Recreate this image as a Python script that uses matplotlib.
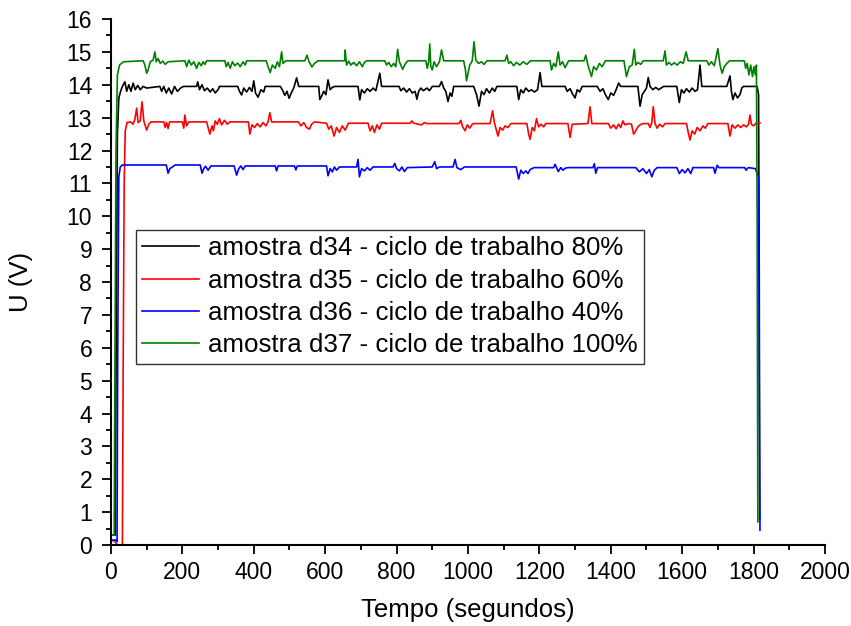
import matplotlib
matplotlib.use("Agg")
import matplotlib.pyplot as plt
from matplotlib.ticker import MultipleLocator

plt.rcParams['font.family'] = ['Liberation Sans', 'DejaVu Sans']

# (tempo em s, tensao em V)
d34 = [(0, 0.3), (12, 0.3), (14, 5), (18, 12.5), (22, 13.6), (27, 13.8), (32, 13.95), (39, 14.09),
       (44, 13.8), (50, 14.0), (56, 13.8), (62, 14.05), (68, 13.85), (75, 13.98), (82, 13.85),
       (90, 13.95), (100, 13.9), (137, 13.95), (142, 13.8), (148, 13.95), (155, 13.75), (162, 13.9),
       (170, 13.72), (178, 13.95), (186, 13.8), (195, 13.9), (203, 13.95), (240, 13.95), (243, 14.09),
       (248, 13.85), (255, 14.0), (262, 13.82), (270, 13.9), (278, 13.78), (285, 13.88), (292, 13.75),
       (300, 13.85), (304, 13.95), (355, 13.95), (360, 13.8), (366, 13.69), (372, 13.9), (380, 13.78),
       (388, 13.92), (395, 13.8), (400, 14.12), (405, 13.75), (412, 13.62), (420, 13.85), (428, 13.78),
       (432, 13.95), (474, 13.95), (480, 13.85), (487, 13.68), (493, 13.8), (499, 13.59), (505, 13.75),
       (512, 13.9), (520, 14.21), (526, 13.95), (582, 13.95), (585, 13.55), (590, 13.65), (596, 13.8),
       (602, 13.7), (608, 14.15), (614, 13.85), (620, 13.92), (627, 13.95), (692, 13.95), (697, 13.54),
       (702, 13.85), (710, 13.75), (718, 13.88), (726, 13.8), (734, 13.9), (742, 13.82), (753, 14.35),
       (758, 13.95), (807, 13.95), (812, 13.82), (820, 13.9), (828, 13.78), (836, 13.88), (844, 13.75),
       (852, 13.8), (857, 13.56), (862, 13.8), (868, 13.9), (875, 13.82), (885, 13.9), (892, 13.82),
       (900, 13.95), (920, 13.95), (926, 14.1), (932, 13.9), (938, 13.8), (944, 13.49), (950, 13.75),
       (955, 13.65), (960, 13.95), (1016, 13.95), (1024, 13.7), (1031, 13.35), (1038, 13.8),
       (1045, 13.7), (1052, 13.88), (1060, 13.75), (1068, 13.9), (1075, 13.8), (1081, 13.95),
       (1137, 13.95), (1142, 13.55), (1148, 13.85), (1155, 13.75), (1162, 13.9), (1170, 13.8),
       (1178, 13.85), (1186, 13.78), (1195, 13.85), (1202, 14.37), (1207, 13.95), (1272, 13.95),
       (1278, 13.8), (1286, 13.88), (1293, 13.72), (1300, 13.6), (1306, 13.85), (1313, 13.78),
       (1320, 13.95), (1362, 13.95), (1370, 13.8), (1378, 13.88), (1385, 13.7), (1393, 13.55),
       (1400, 13.75), (1408, 13.68), (1415, 13.85), (1422, 14.05), (1428, 13.95), (1476, 13.95),
       (1482, 13.35), (1488, 13.7), (1494, 13.8), (1500, 13.9), (1505, 14.22), (1510, 13.95),
       (1518, 13.85), (1526, 13.92), (1534, 13.85), (1548, 13.95), (1585, 13.95), (1592, 13.46),
       (1598, 13.85), (1605, 13.75), (1612, 13.88), (1620, 13.78), (1628, 13.9), (1636, 13.8),
       (1643, 13.85), (1650, 14.6), (1655, 13.95), (1725, 13.95), (1734, 14.27), (1738, 13.8),
       (1742, 13.55), (1748, 13.75), (1755, 13.6), (1762, 13.7), (1767, 13.9), (1772, 13.95),
       (1810, 13.95), (1814, 13.7), (1816, 8), (1817, 0.78)]

d35 = [(0, 0.15), (10, 0.12), (18, 0.0), (32, 0.0), (34, 5), (37, 11), (40, 12.6), (45, 12.85),
       (55, 12.87), (62, 12.8), (67, 12.95), (72, 13.29), (76, 12.85), (82, 12.9), (87, 13.48),
       (92, 12.9), (100, 12.62), (106, 12.8), (112, 12.87), (148, 12.87), (152, 12.7), (156, 12.85),
       (160, 12.67), (164, 12.87), (200, 12.87), (204, 12.68), (207, 13.08), (212, 12.75),
       (218, 12.87), (268, 12.87), (272, 12.7), (277, 12.5), (283, 12.75), (287, 12.6), (292, 12.9),
       (298, 12.8), (304, 12.97), (310, 12.78), (318, 12.92), (326, 12.8), (333, 12.87), (385, 12.87),
       (389, 12.5), (395, 12.78), (402, 12.7), (410, 12.82), (418, 12.72), (426, 12.85), (434, 12.75),
       (440, 12.87), (445, 13.15), (450, 12.87), (525, 12.87), (532, 12.75), (540, 12.85),
       (548, 12.7), (556, 12.65), (562, 12.8), (570, 12.87), (604, 12.83), (610, 12.65), (617, 12.75),
       (625, 12.44), (632, 12.7), (640, 12.55), (648, 12.75), (656, 12.62), (665, 12.83), (720, 12.83),
       (726, 12.6), (732, 12.75), (738, 12.55), (745, 12.78), (752, 12.65), (758, 12.83), (838, 12.83),
       (843, 12.9), (848, 12.83), (870, 12.78), (878, 12.85), (885, 12.82), (975, 12.82), (980, 12.92),
       (985, 12.72), (992, 12.6), (998, 12.78), (1005, 12.68), (1012, 12.8), (1016, 12.82),
       (1062, 12.82), (1069, 13.21), (1074, 12.85), (1084, 12.44), (1090, 12.7), (1097, 12.62),
       (1104, 12.75), (1112, 12.7), (1120, 12.82), (1165, 12.82), (1170, 12.5), (1174, 12.34),
       (1180, 12.7), (1186, 12.6), (1192, 12.97), (1198, 12.72), (1205, 12.8), (1212, 12.72),
       (1218, 12.82), (1280, 12.82), (1286, 12.4), (1292, 12.8), (1336, 12.82), (1342, 13.33),
       (1347, 12.82), (1393, 12.82), (1400, 12.68), (1408, 12.78), (1415, 12.66), (1422, 12.8),
       (1428, 12.7), (1434, 12.9), (1440, 12.78), (1450, 12.82), (1458, 12.8), (1464, 12.5),
       (1470, 12.6), (1476, 12.72), (1482, 12.78), (1490, 12.82), (1505, 12.82), (1510, 12.7),
       (1515, 12.85), (1519, 13.33), (1524, 12.82), (1530, 12.68), (1537, 12.8), (1545, 12.72),
       (1552, 12.82), (1612, 12.82), (1618, 12.5), (1622, 12.32), (1628, 12.6), (1635, 12.5),
       (1642, 12.7), (1650, 12.6), (1658, 12.75), (1665, 12.68), (1672, 12.82), (1728, 12.82),
       (1734, 12.44), (1740, 12.78), (1748, 12.68), (1756, 12.78), (1764, 12.7), (1772, 12.78),
       (1780, 12.72), (1786, 12.8), (1790, 13.08), (1794, 12.8), (1800, 12.75), (1806, 12.82),
       (1818, 12.84)]

d36 = [(0, 0.15), (15, 0.15), (17, 0.1), (19, 6), (22, 11.2), (26, 11.5), (32, 11.56), (155, 11.56),
       (160, 11.31), (165, 11.45), (172, 11.5), (180, 11.56), (250, 11.56), (255, 11.31), (260, 11.45),
       (265, 11.52), (272, 11.4), (280, 11.53), (345, 11.53), (352, 11.25), (358, 11.45), (364, 11.53),
       (370, 11.42), (376, 11.53), (460, 11.53), (464, 11.38), (468, 11.53), (514, 11.53),
       (518, 11.41), (522, 11.53), (604, 11.53), (608, 11.23), (614, 11.45), (620, 11.35), (626, 11.5),
       (632, 11.4), (640, 11.5), (688, 11.5), (692, 11.73), (696, 11.2), (702, 11.45), (710, 11.38),
       (718, 11.48), (726, 11.4), (734, 11.5), (790, 11.5), (795, 11.61), (800, 11.45), (808, 11.38),
       (815, 11.5), (822, 11.36), (830, 11.48), (900, 11.5), (907, 11.66), (912, 11.45), (920, 11.5),
       (958, 11.5), (964, 11.73), (969, 11.48), (980, 11.42), (990, 11.5), (1135, 11.5),
       (1142, 11.13), (1148, 11.4), (1155, 11.3), (1162, 11.38), (1168, 11.3), (1174, 11.42),
       (1185, 11.48), (1240, 11.48), (1244, 11.58), (1253, 11.36), (1260, 11.48), (1266, 11.4),
       (1272, 11.46), (1280, 11.48), (1350, 11.48), (1354, 11.6), (1358, 11.31), (1363, 11.48),
       (1470, 11.48), (1480, 11.35), (1490, 11.45), (1500, 11.3), (1508, 11.42), (1515, 11.2),
       (1522, 11.4), (1530, 11.48), (1585, 11.48), (1592, 11.3), (1600, 11.42), (1608, 11.32),
       (1616, 11.45), (1624, 11.3), (1630, 11.48), (1688, 11.48), (1692, 11.31), (1698, 11.55),
       (1703, 11.48), (1775, 11.48), (1779, 11.4), (1785, 11.48), (1805, 11.45), (1810, 11.3),
       (1814, 11.2), (1816, 5), (1818, 0.45)]

d37 = [(0, 0.3), (9, 0.3), (10, 3), (14, 12), (18, 14.3), (24, 14.6), (35, 14.7), (90, 14.73),
       (95, 14.6), (100, 14.35), (104, 14.45), (110, 14.7), (118, 14.75), (123, 15.0), (127, 14.7),
       (132, 14.8), (138, 14.65), (145, 14.72), (152, 14.62), (160, 14.7), (207, 14.73), (212, 14.55),
       (218, 14.75), (225, 14.6), (232, 14.7), (240, 14.5), (246, 14.68), (253, 14.58), (258, 14.7),
       (263, 14.62), (268, 14.73), (319, 14.73), (323, 14.55), (328, 14.68), (334, 14.5), (340, 14.7),
       (347, 14.58), (355, 14.66), (362, 14.55), (370, 14.7), (376, 14.6), (380, 14.73), (435, 14.73),
       (440, 14.55), (446, 14.37), (452, 14.6), (460, 14.5), (466, 14.7), (472, 14.55), (478, 15.0),
       (482, 14.65), (490, 14.73), (543, 14.73), (549, 14.9), (555, 14.7), (563, 14.54), (570, 14.65),
       (580, 14.73), (655, 14.73), (656, 15.06), (660, 14.6), (666, 14.72), (672, 14.6), (680, 14.68),
       (688, 14.58), (696, 14.7), (704, 14.55), (710, 14.68), (716, 14.73), (767, 14.73), (772, 14.6),
       (778, 14.68), (785, 14.55), (792, 14.65), (798, 14.55), (803, 15.08), (808, 14.7),
       (817, 14.47), (825, 14.65), (832, 14.73), (882, 14.73), (886, 14.5), (890, 14.7), (893, 15.24),
       (896, 14.55), (900, 14.45), (905, 14.7), (912, 14.55), (920, 14.7), (926, 15.06), (932, 14.73),
       (988, 14.73), (993, 14.45), (996, 14.12), (1005, 14.6), (1012, 14.73), (1017, 15.31),
       (1022, 14.75), (1030, 14.65), (1038, 14.7), (1045, 14.62), (1053, 14.73), (1104, 14.73),
       (1109, 14.9), (1114, 14.65), (1120, 14.7), (1128, 14.58), (1136, 14.68), (1145, 14.6),
       (1155, 14.7), (1165, 14.62), (1175, 14.73), (1230, 14.73), (1234, 14.45), (1240, 14.65),
       (1246, 14.55), (1253, 15.0), (1258, 14.6), (1265, 14.7), (1272, 14.52), (1282, 14.73),
       (1325, 14.73), (1330, 14.9), (1336, 14.6), (1346, 14.25), (1352, 14.55), (1360, 14.45),
       (1368, 14.65), (1376, 14.55), (1385, 14.73), (1437, 14.73), (1444, 14.25), (1452, 14.55),
       (1460, 14.6), (1466, 15.08), (1470, 14.6), (1476, 14.68), (1484, 14.62), (1491, 14.73),
       (1547, 14.73), (1552, 15.03), (1556, 14.6), (1563, 14.68), (1570, 14.6), (1578, 14.67),
       (1586, 14.6), (1595, 14.7), (1603, 14.65), (1611, 15.0), (1617, 14.73), (1669, 14.73),
       (1675, 14.6), (1682, 14.7), (1690, 14.58), (1700, 15.1), (1706, 14.6), (1712, 14.35),
       (1718, 14.55), (1725, 14.65), (1733, 14.73), (1774, 14.73), (1778, 14.5), (1782, 14.65),
       (1787, 14.3), (1792, 14.6), (1797, 14.25), (1801, 14.55), (1805, 14.3), (1808, 14.6),
       (1810, 10), (1812, 0.7)]

series = [
    (d34, 'black', 'amostra d34 - ciclo de trabalho 80%'),
    (d35, '#ff0000', 'amostra d35 - ciclo de trabalho 60%'),
    (d36, '#0000ff', 'amostra d36 - ciclo de trabalho 40%'),
    (d37, '#008000', 'amostra d37 - ciclo de trabalho 100%'),
]

fig = plt.figure(figsize=(8.51, 6.26), dpi=100)
ax = fig.add_axes([0.1304, 0.1294, 0.8390, 0.8402])

for data, color, label in series:
    t, u = zip(*data)
    ax.plot(t, u, color=color, lw=1.2, label=label)

ax.set_xlim(0, 2000)
ax.set_ylim(0, 16)
ax.xaxis.set_major_locator(MultipleLocator(200))
ax.xaxis.set_minor_locator(MultipleLocator(100))
ax.yaxis.set_major_locator(MultipleLocator(1))
ax.yaxis.set_minor_locator(MultipleLocator(0.5))

for side in ['top', 'right']:
    ax.spines[side].set_visible(False)
for side in ['left', 'bottom']:
    ax.spines[side].set_linewidth(1.5)

ax.tick_params(which='major', direction='out', length=6.5, width=1.3, labelsize=16.5)
ax.tick_params(which='minor', direction='out', length=3.5, width=1.3)
ax.tick_params(axis='x', which='major', pad=5)
ax.tick_params(axis='y', which='major', pad=7)

ax.set_xlabel('Tempo (segundos)', fontsize=18.5, labelpad=10)
ax.set_ylabel('U (V)', fontsize=18.5, labelpad=24)

leg = ax.legend(loc='upper left', bbox_to_anchor=(0.035, 0.599), fontsize=18.6,
                frameon=True, fancybox=False, handlelength=2.2, handletextpad=0.35,
                borderpad=0.25, labelspacing=0.32, borderaxespad=0)
leg.get_frame().set_edgecolor('black')
leg.get_frame().set_linewidth(1.0)

fig.savefig('out.png', dpi=100)
